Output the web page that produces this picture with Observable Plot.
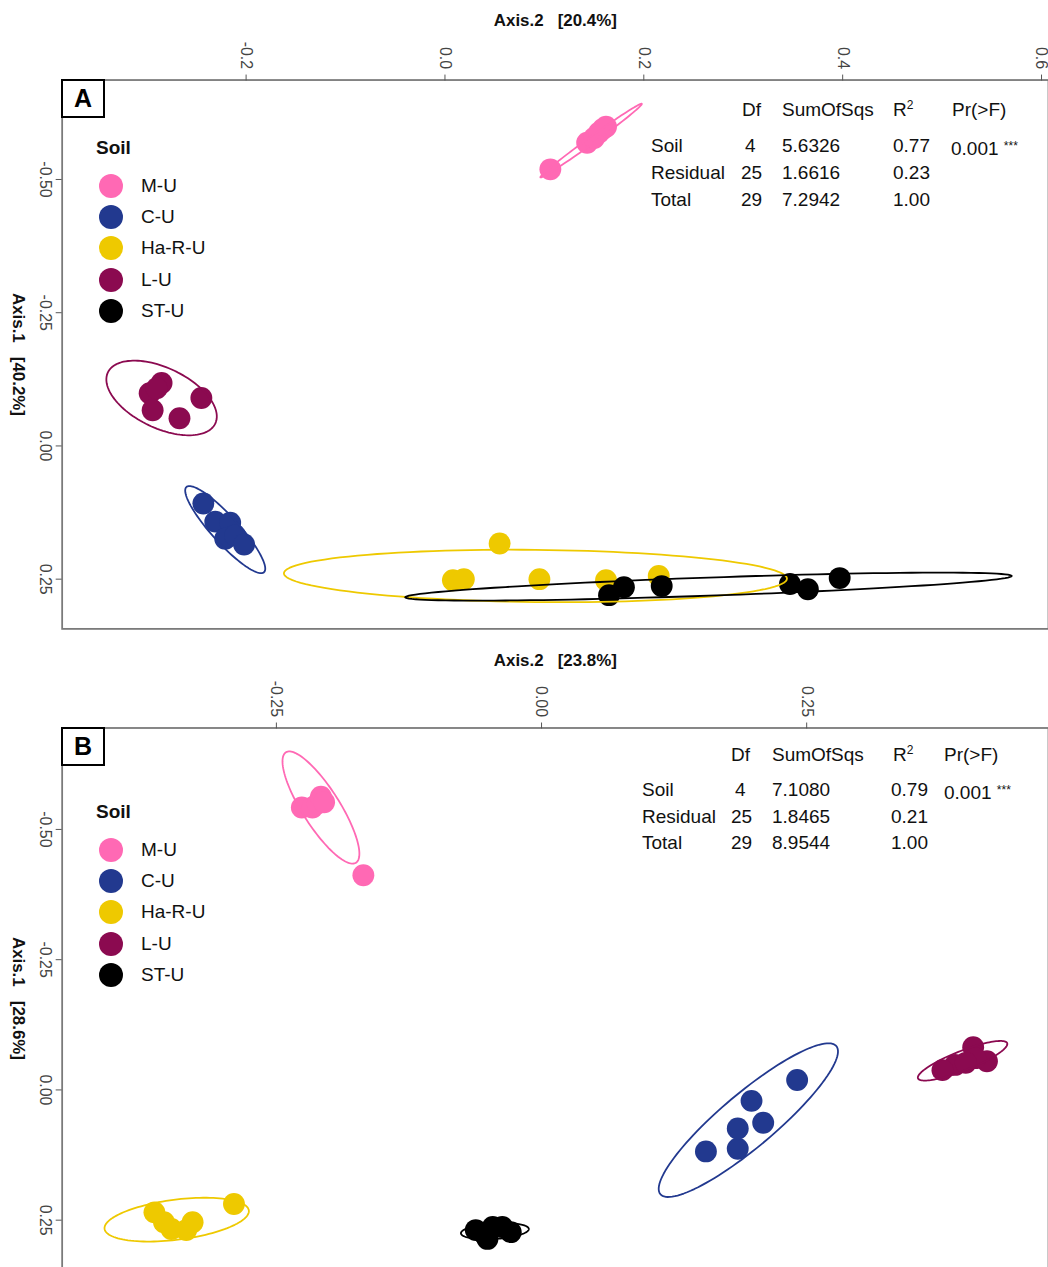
<!DOCTYPE html>
<html><head><meta charset="utf-8">
<script src="https://cdn.jsdelivr.net/npm/d3@7"></script>
<script src="https://cdn.jsdelivr.net/npm/@observablehq/plot@0.6"></script>
<style>
html,body{margin:0;padding:0;background:#fff;overflow:hidden;}
body{width:1048px;height:1267px;position:relative;font-family:"Liberation Sans",Arial,sans-serif;}
.panel{position:absolute;left:0;width:1048px;overflow:hidden;}
.panel svg{position:absolute;left:0;top:0;}
.tag{position:absolute;left:61px;width:40px;height:35px;border:2px solid #000;background:#fff;font-weight:bold;font-size:25px;line-height:35px;text-align:center;color:#000;z-index:2;}
.cell{position:absolute;font-size:19px;line-height:22px;white-space:nowrap;color:#111;z-index:2;}
.cell sup{font-size:12px;line-height:0;vertical-align:7px;}
.stars{font-size:12px;vertical-align:5px;}
.lgtitle{position:absolute;left:96px;font-size:19px;font-weight:bold;line-height:22px;color:#111;z-index:2;}
.lgdot{position:absolute;left:99px;width:24px;height:24px;border-radius:50%;z-index:2;}
.lglab{position:absolute;left:141px;font-size:19px;line-height:22px;color:#111;z-index:2;}
</style></head><body>
<div id="A" class="panel" style="top:0;height:640px"></div>
<div id="B" class="panel" style="top:640px;height:627px"></div>
<script>
// ---------- shared ----------
const soils = ["M-U", "C-U", "Ha-R-U", "L-U", "ST-U"];
const soilColors = ["#FF69B4", "#22398F", "#EEC900", "#8B0A50", "#000000"];
const tableHeader = ["Df", "SumOfSqs", "R2", "Pr(>F)"];
const tableRows = ["Soil", "Residual", "Total"];
const tableDf = ["4", "25", "29"];

// ---------- panel A data ----------
const aSoil = ["M-U","M-U","M-U","M-U","M-U","M-U",
  "C-U","C-U","C-U","C-U","C-U","C-U",
  "Ha-R-U","Ha-R-U","Ha-R-U","Ha-R-U","Ha-R-U","Ha-R-U",
  "L-U","L-U","L-U","L-U","L-U","L-U",
  "ST-U","ST-U","ST-U","ST-U","ST-U","ST-U"];
const aAxis2 = [0.106, 0.143, 0.150, 0.155, 0.159, 0.162,
  -0.243, -0.231, -0.216, -0.221, -0.211, -0.202,
  0.055, 0.008, 0.019, 0.095, 0.162, 0.215,
  -0.285, -0.297, -0.294, -0.290, -0.267, -0.245,
  0.165, 0.180, 0.218, 0.347, 0.365, 0.397];
const aAxis1 = [-0.519, -0.569, -0.578, -0.588, -0.595, -0.599,
  0.108, 0.142, 0.144, 0.174, 0.168, 0.185,
  0.183, 0.252, 0.250, 0.250, 0.252, 0.244,
  -0.118, -0.099, -0.067, -0.108, -0.052, -0.090,
  0.280, 0.265, 0.263, 0.259, 0.269, 0.248];
// ellipses: centre, end of one semi-axis (M), end of the other semi-axis (N)
const aEllSoil = ["M-U", "C-U", "Ha-R-U", "L-U", "ST-U"];
const aEllCx = [0.147, -0.221, 0.091, -0.285, 0.265];
const aEllCy = [-0.573, 0.157, 0.244, -0.090, 0.264];
const aEllMx = [0.198, -0.182, 0.344, -0.231, 0.570];
const aEllMy = [-0.642, 0.237, 0.249, -0.042, 0.244];
const aEllNx = [0.149, -0.231, 0.091, -0.298, 0.265];
const aEllNy = [-0.568, 0.174, 0.293, -0.039, 0.281];
const aAxis2Ticks = [-0.2, 0, 0.2, 0.4, 0.6];
const aAxis2Labels = ["-0.2", "0.0", "0.2", "0.4", "0.6"];
const aAxis1Ticks = [-0.5, -0.25, 0, 0.25];
const aAxis1Labels = ["-0.50", "-0.25", "0.00", "0.25"];
const aAxis2Title = "Axis.2\u00a0\u00a0\u00a0[20.4%]";
const aAxis1Title = "Axis.1\u00a0\u00a0\u00a0[40.2%]";
const aSS = ["5.6326", "1.6616", "7.2942"];
const aR2 = ["0.77", "0.23", "1.00"];
const aP = ["0.001", "", ""];

// ---------- panel B data ----------
const bSoil = aSoil.slice();
const bAxis2 = [-0.226, -0.216, -0.211, -0.208, -0.205, -0.168,
  0.155, 0.185, 0.185, 0.209, 0.198, 0.241,
  -0.365, -0.356, -0.349, -0.335, -0.329, -0.290,
  0.407, 0.420, 0.409, 0.390, 0.378, 0.400,
  -0.062, -0.053, -0.046, -0.037, -0.029, -0.051];
const bAxis1 = [-0.542, -0.542, -0.550, -0.563, -0.552, -0.412,
  0.118, 0.113, 0.074, 0.063, 0.021, -0.019,
  0.235, 0.254, 0.267, 0.269, 0.254, 0.219,
  -0.082, -0.055, -0.061, -0.048, -0.038, -0.052,
  0.269, 0.279, 0.263, 0.263, 0.273, 0.286];
const bEllSoil = ["M-U", "C-U", "Ha-R-U", "L-U", "ST-U"];
const bEllCx = [-0.208, 0.195, -0.344, 0.397, -0.044];
const bEllCy = [-0.542, 0.058, 0.249, -0.056, 0.271];
const bEllMx = [-0.175, 0.278, -0.276, 0.439, -0.012];
const bEllMy = [-0.436, -0.084, 0.231, -0.090, 0.267];
const bEllNx = [-0.223, 0.211, -0.341, 0.401, -0.044];
const bEllNy = [-0.523, 0.098, 0.287, -0.039, 0.286];
const bAxis2Ticks = [-0.25, 0, 0.25];
const bAxis2Labels = ["-0.25", "0.00", "0.25"];
const bAxis1Ticks = [-0.5, -0.25, 0, 0.25];
const bAxis1Labels = ["-0.50", "-0.25", "0.00", "0.25"];
const bAxis2Title = "Axis.2\u00a0\u00a0\u00a0[23.8%]";
const bAxis1Title = "Axis.1\u00a0\u00a0\u00a0[28.6%]";
const bSS = ["7.1080", "1.8465", "8.9544"];
const bR2 = ["0.79", "0.21", "1.00"];
const bP = ["0.001", "", ""];

// ---------- helpers ----------
function ellipseRows(es, cx, cy, mx, my, nx, ny) {
  const out = [];
  es.forEach((s, k) => {
    for (let j = 0; j <= 120; j++) {
      const t = 2 * Math.PI * j / 120;
      out.push({soil: s,
        x: cx[k] + (mx[k] - cx[k]) * Math.cos(t) + (nx[k] - cx[k]) * Math.sin(t),
        y: cy[k] + (my[k] - cy[k]) * Math.cos(t) + (ny[k] - cy[k]) * Math.sin(t)});
    }
  });
  return out;
}

function makePlot(cfg) {
  const idx = d3.range(cfg.soil.length);
  const ell = ellipseRows(cfg.ellSoil, cfg.ellCx, cfg.ellCy, cfg.ellMx, cfg.ellMy, cfg.ellNx, cfg.ellNy);
  return Plot.plot({
    width: 1054, height: 640,
    marginTop: cfg.marginTop, marginLeft: 62, marginRight: 0, marginBottom: 8,
    x: {domain: cfg.xDomain},
    y: {domain: cfg.yDomain, reverse: true},
    color: {domain: soils, range: soilColors},
    style: {fontFamily: '"Liberation Sans", Arial, sans-serif', background: "transparent", overflow: "visible"},
    marks: [
      Plot.dot(idx, {x: i => cfg.ax2[i], y: i => cfg.ax1[i], fill: i => cfg.soil[i], r: 11}),
      Plot.line(ell, {x: "x", y: "y", z: "soil", stroke: "soil", strokeWidth: 1.8}),
      Plot.frame({stroke: "#7a7a7a", strokeWidth: 1.8}),
      Plot.axisX({anchor: "top", ticks: cfg.xTicks, tickSize: 6, tickFormat: () => "", label: null, color: "#555"}),
      Plot.axisY({anchor: "left", ticks: cfg.yTicks, tickSize: 6, tickFormat: () => "", label: null, color: "#555"}),
      Plot.text(cfg.xTicks, {x: d => d, frameAnchor: "top", dy: -11, rotate: 90, textAnchor: "end", lineAnchor: "middle",
        text: (d, i) => cfg.xLabels[i], fontSize: 16, fill: "#444"}),
      Plot.text(cfg.yTicks, {y: d => d, frameAnchor: "left", dx: -11, rotate: 90, textAnchor: "middle", lineAnchor: "top",
        text: (d, i) => cfg.yLabels[i], fontSize: 16, fill: "#444"}),
      Plot.text([cfg.xTitle], {frameAnchor: "top", dy: -(cfg.marginTop - 20), text: d => d, fontWeight: "bold", fontSize: 17, lineAnchor: "middle", fill: "#111"}),
      Plot.text([cfg.yTitle], {frameAnchor: "left", dx: -44, rotate: 90, text: d => d, fontWeight: "bold", fontSize: 17, lineAnchor: "middle", textAnchor: "middle", fill: "#111"})
    ]
  });
}

function addOverlay(el, cfg) {
  const tag = document.createElement("div");
  tag.className = "tag"; tag.textContent = cfg.tag;
  tag.style.top = (cfg.marginTop - 1) + "px";
  el.appendChild(tag);
  // legend
  const lt = document.createElement("div");
  lt.className = "lgtitle"; lt.textContent = "Soil";
  lt.style.top = (cfg.legendTop - 11) + "px";
  el.appendChild(lt);
  soils.forEach((s, i) => {
    const cy = cfg.legendTop + 38 + i * 31.2;
    const d = document.createElement("div");
    d.className = "lgdot"; d.style.background = soilColors[i]; d.style.top = (cy - 12) + "px";
    el.appendChild(d);
    const l = document.createElement("div");
    l.className = "lglab"; l.textContent = s; l.style.top = (cy - 11) + "px";
    el.appendChild(l);
  });
  // table
  const cols = cfg.tableX;
  const put = (html, x, y) => {
    const c = document.createElement("div");
    c.className = "cell"; c.innerHTML = html;
    c.style.left = x + "px"; c.style.top = (y - 11) + "px";
    el.appendChild(c);
  };
  const hdr = tableHeader.map(h => h === "R2" ? "R<sup>2</sup>" : h);
  hdr.forEach((h, j) => put(h, cols[j + 1] + (cfg.hdrShift[j] || 0), cfg.tableY[0]));
  tableRows.forEach((r, i) => {
    const y = cfg.tableY[i + 1];
    put(r, cols[0], y);
    put(tableDf[i], cols[1] + (tableDf[i].length === 1 ? 4 : 0), y);
    put(cfg.ss[i], cols[2], y);
    put(cfg.r2[i], cols[3], y);
    if (cfg.p[i]) put(cfg.p[i] + ' <span class="stars">***</span>', cols[4], y);
  });
}

const cfgA = {
  soil: aSoil, ax2: aAxis2, ax1: aAxis1,
  ellSoil: aEllSoil, ellCx: aEllCx, ellCy: aEllCy, ellMx: aEllMx, ellMy: aEllMy, ellNx: aEllNx, ellNy: aEllNy,
  xTicks: aAxis2Ticks, xLabels: aAxis2Labels, yTicks: aAxis1Ticks, yLabels: aAxis1Labels,
  xTitle: aAxis2Title, yTitle: aAxis1Title,
  marginTop: 80, xDomain: [-0.385, 0.607], yDomain: [-0.6866, 0.3433],
  tag: "A", legendTop: 148,
  tableX: [651, 741, 782, 893, 951], hdrShift: [1, 0, 0, 1], tableY: [110, 146, 173, 200],
  ss: aSS, r2: aR2, p: aP
};
const cfgB = {
  soil: bSoil, ax2: bAxis2, ax1: bAxis1,
  ellSoil: bEllSoil, ellCx: bEllCx, ellCy: bEllCy, ellMx: bEllMx, ellMy: bEllMy, ellNx: bEllNx, ellNy: bEllNy,
  xTicks: bAxis2Ticks, xLabels: bAxis2Labels, yTicks: bAxis1Ticks, yLabels: bAxis1Labels,
  xTitle: bAxis2Title, yTitle: bAxis1Title,
  marginTop: 88, xDomain: [-0.452, 0.478], yDomain: [-0.6947, 0.3435],
  tag: "B", legendTop: 172,
  tableX: [642, 731, 772, 891, 944], hdrShift: [0, 0, 2, 0], tableY: [115, 150, 177, 203],
  ss: bSS, r2: bR2, p: bP
};

const elA = document.getElementById("A");
elA.appendChild(makePlot(cfgA));
addOverlay(elA, cfgA);
const elB = document.getElementById("B");
elB.appendChild(makePlot(cfgB));
addOverlay(elB, cfgB);
</script>
</body></html>
